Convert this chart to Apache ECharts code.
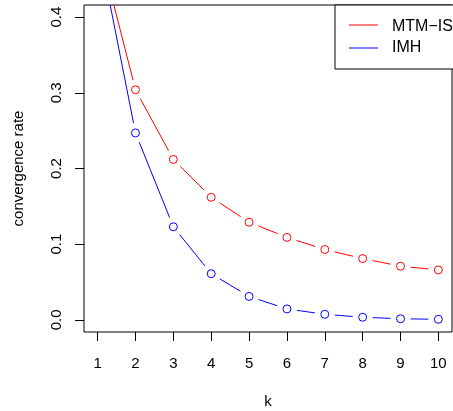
<!DOCTYPE html>
<html>
<head>
<meta charset="utf-8">
<script src="https://cdn.jsdelivr.net/npm/echarts@6/dist/echarts.min.js"></script>
<style>
html,body{margin:0;padding:0;background:#fff;}
#c{width:453px;height:411px;}
</style>
</head>
<body>
<div id="c"></div>
<script>
// ---- data ----
const kValues = [1, 2, 3, 4, 5, 6, 7, 8, 9, 10];
const mtmIS = [0.5, 0.304, 0.212, 0.162, 0.129, 0.109, 0.093, 0.081, 0.071, 0.066];
const imh = [0.5, 0.247, 0.123, 0.061, 0.031, 0.0145, 0.0074, 0.0035, 0.0015, 0.0008];
const xTicks = [1, 2, 3, 4, 5, 6, 7, 8, 9, 10];
const yTicks = [0, 0.1, 0.2, 0.3, 0.4];
const seriesNames = ['MTM\u2212IS', 'IMH'];
const seriesColors = ['#FF0000', '#0000FF'];

const FONT = 'Liberation Sans, Arial, Helvetica, sans-serif';
const GAP = 10;

function pairs(vals) { return kValues.map((k, i) => [k, vals[i]]); }

function gappedLine(vals, color) {
  return {
    type: 'custom',
    clip: true,
    silent: true,
    data: pairs(vals),
    renderItem: function (params, api) {
      const i = params.dataIndex;
      if (i >= vals.length - 1) return null;
      const p0 = api.coord([kValues[i], vals[i]]);
      const p1 = api.coord([kValues[i + 1], vals[i + 1]]);
      const dx = p1[0] - p0[0], dy = p1[1] - p0[1];
      const len = Math.sqrt(dx * dx + dy * dy);
      if (len <= 2 * GAP) return null;
      const ux = dx / len, uy = dy / len;
      return {
        type: 'line',
        shape: { x1: p0[0] + ux * GAP, y1: p0[1] + uy * GAP, x2: p1[0] - ux * GAP, y2: p1[1] - uy * GAP },
        style: { stroke: color, lineWidth: 1 }
      };
    }
  };
}

function points(vals, color, name) {
  return {
    type: 'scatter',
    name: name,
    clip: true,
    silent: true,
    data: pairs(vals),
    symbol: 'circle',
    symbolSize: 8,
    itemStyle: { color: 'rgba(255,255,255,0)', borderColor: color, borderWidth: 1, opacity: 1 }
  };
}

const chart = echarts.init(document.getElementById('c'), null, { renderer: 'canvas' });
chart.setOption({
  animation: false,
  backgroundColor: '#fff',
  grid: { left: 84, right: 1, top: 5, bottom: 79, show: true, borderColor: '#000', borderWidth: 1,
    backgroundColor: 'transparent', outerBoundsMode: 'none', containLabel: false },
  xAxis: {
    type: 'value', min: 0.64, max: 10.36,
    axisLine: { show: false, onZero: false },
    splitLine: { show: false },
    axisTick: { show: true, inside: false, length: 9, customValues: xTicks, lineStyle: { color: '#000' } },
    axisLabel: { customValues: xTicks, margin: 24, fontSize: 15, color: '#000', fontFamily: FONT },
    name: 'k', nameLocation: 'middle', nameGap: 62,
    nameTextStyle: { fontSize: 15, color: '#000', fontFamily: FONT }
  },
  yAxis: {
    type: 'value', min: -0.016, max: 0.416,
    axisLine: { show: false, onZero: false },
    splitLine: { show: false },
    axisTick: { show: true, inside: false, length: 9, customValues: yTicks, lineStyle: { color: '#000' } },
    axisLabel: { customValues: yTicks, rotate: 90, margin: 20, fontSize: 15, color: '#000', fontFamily: FONT,
      formatter: v => Number(v).toFixed(1) },
    name: 'convergence rate', nameLocation: 'middle', nameGap: 58,
    nameTextStyle: { fontSize: 15, color: '#000', fontFamily: FONT }
  },
  series: [
    gappedLine(mtmIS, seriesColors[0]),
    points(mtmIS, seriesColors[0], seriesNames[0]),
    gappedLine(imh, seriesColors[1]),
    points(imh, seriesColors[1], seriesNames[1])
  ],
  graphic: [
    { type: 'rect', left: 334.5, top: 4.5, shape: { width: 140, height: 64 }, style: { fill: '#fff', stroke: '#000', lineWidth: 1 }, z: 100 },
    { type: 'line', shape: { x1: 349, y1: 25, x2: 378, y2: 25 }, style: { stroke: seriesColors[0], lineWidth: 1 }, z: 101 },
    { type: 'line', shape: { x1: 349, y1: 48, x2: 378, y2: 48 }, style: { stroke: seriesColors[1], lineWidth: 1 }, z: 101 },
    { type: 'text', x: 392, y: 26.5, style: { text: seriesNames[0], fontSize: 16, fill: '#000', fontFamily: FONT, verticalAlign: 'middle' }, z: 101 },
    { type: 'text', x: 392, y: 47.5, style: { text: seriesNames[1], fontSize: 16, fill: '#000', fontFamily: FONT, verticalAlign: 'middle' }, z: 101 }
  ]
});
</script>
</body>
</html>
